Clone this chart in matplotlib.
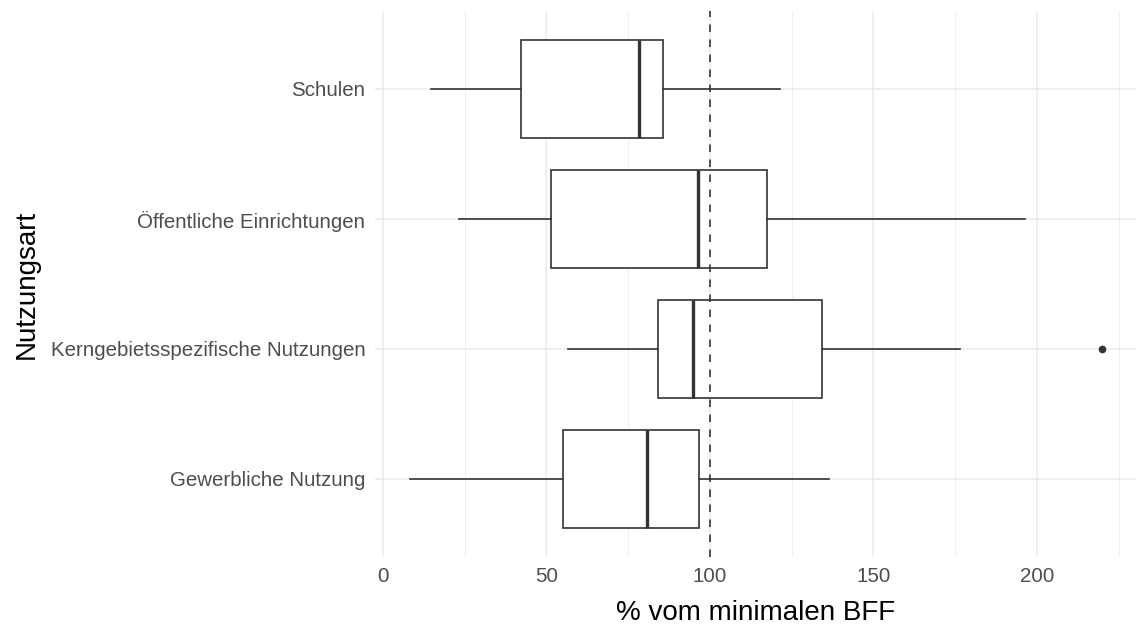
import matplotlib
matplotlib.use("Agg")
import matplotlib.pyplot as plt

plt.rcParams['font.family'] = ['Liberation Sans', 'DejaVu Sans']

# categories from bottom to top
categories = ["Gewerbliche Nutzung", "Kerngebietsspezifische Nutzungen",
              "Öffentliche Einrichtungen", "Schulen"]
whisker_low = [8.2, 56.6, 23.2, 14.8]
q1 = [55.2, 84.1, 51.3, 42.3]
median = [80.7, 94.9, 96.5, 78.2]
q3 = [96.6, 134.2, 117.4, 85.6]
whisker_high = [136.5, 176.6, 196.3, 121.3]
outliers = [[], [220.0], [], []]

x_ticks = [0, 50, 100, 150, 200]
reference = 100

stats = []
for i, name in enumerate(categories):
    stats.append(dict(label=name, whislo=whisker_low[i], q1=q1[i], med=median[i],
                      q3=q3[i], whishi=whisker_high[i], fliers=outliers[i]))

fig = plt.figure(figsize=(11.36, 6.32), dpi=100)
ax = fig.add_axes([375 / 1136, 75 / 632, (1137 - 375) / 1136, (557 - 11) / 632])

line = dict(color="#333333", linewidth=1.2)
ax.bxp(stats, positions=range(1, len(categories) + 1), vert=False, widths=0.75,
       showcaps=False, patch_artist=True,
       boxprops=dict(facecolor="white", edgecolor="#333333", linewidth=1.2),
       whiskerprops=line,
       medianprops=dict(color="#333333", linewidth=2.4),
       flierprops=dict(marker="o", markerfacecolor="#333333", markeredgecolor="#333333",
                       markersize=4.5),
       zorder=3)

ax.axvline(reference, color="#333333", linestyle=(0, (4.5, 4.5)), linewidth=1.2, zorder=4)

# x range: data range with 5% padding, like ggplot
lo = min(whisker_low)
hi = max(max(whisker_high), max(max(o) for o in outliers if o))
pad = 0.05 * (hi - lo)
ax.set_xlim(lo - pad, hi + pad)
ax.set_ylim(0.4, len(categories) + 0.6)

ax.set_xticks(x_ticks)
ax.set_xticks([t + 25 for t in x_ticks], minor=True)
ax.set_yticks(range(1, len(categories) + 1))
ax.set_yticklabels(categories)

ax.grid(which="major", color="#EBEBEB", linewidth=1.1, zorder=0)
ax.grid(which="minor", axis="x", color="#EBEBEB", linewidth=0.6, zorder=0)
ax.set_axisbelow(True)

for s in ax.spines.values():
    s.set_visible(False)
ax.tick_params(axis="both", which="both", length=0, labelsize=14.8, labelcolor="#4D4D4D")
ax.tick_params(axis="y", pad=7)
ax.tick_params(axis="x", pad=7)

ax.set_xlabel("% vom minimalen BFF", fontsize=20, labelpad=10)
ax.set_ylabel("Nutzungsart", fontsize=20, labelpad=8)

fig.savefig("out.png", dpi=100)
